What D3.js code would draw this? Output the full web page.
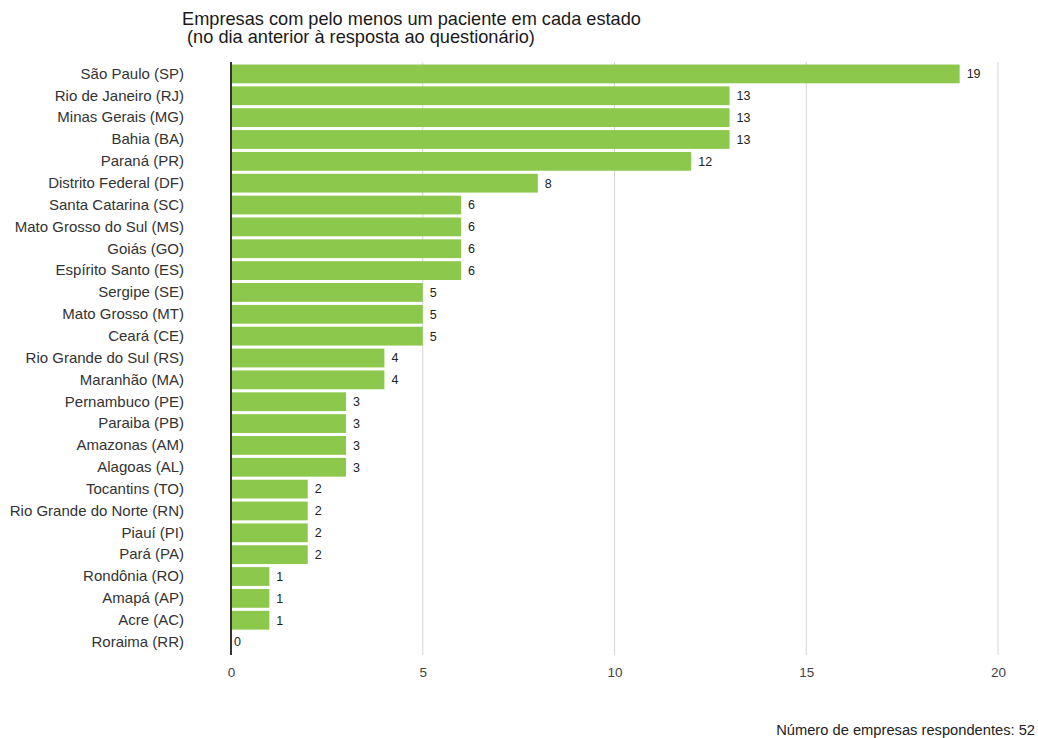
<!DOCTYPE html>
<html>
<head>
<meta charset="utf-8">
<script src="https://cdn.jsdelivr.net/npm/d3@7"></script>
<style>
  html, body { margin: 0; padding: 0; background: #fff; }
  svg { display: block; font-family: "Liberation Sans", Arial, sans-serif; }
</style>
</head>
<body>
<svg id="chart" width="1038" height="738"></svg>
<script>
// Estados e número de empresas com pelo menos um paciente
const states = [
  "São Paulo (SP)", "Rio de Janeiro (RJ)", "Minas Gerais (MG)", "Bahia (BA)",
  "Paraná (PR)", "Distrito Federal (DF)", "Santa Catarina (SC)", "Mato Grosso do Sul (MS)",
  "Goiás (GO)", "Espírito Santo (ES)", "Sergipe (SE)", "Mato Grosso (MT)",
  "Ceará (CE)", "Rio Grande do Sul (RS)", "Maranhão (MA)", "Pernambuco (PE)",
  "Paraiba (PB)", "Amazonas (AM)", "Alagoas (AL)", "Tocantins (TO)",
  "Rio Grande do Norte (RN)", "Piauí (PI)", "Pará (PA)", "Rondônia (RO)",
  "Amapá (AP)", "Acre (AC)", "Roraima (RR)"
];
const companies = [19, 13, 13, 13, 12, 8, 6, 6, 6, 6, 5, 5, 5, 4, 4, 3, 3, 3, 3, 2, 2, 2, 2, 1, 1, 1, 0];
const xTicks = [0, 5, 10, 15, 20];
const titleLines = [
  "Empresas com pelo menos um paciente em cada estado",
  " (no dia anterior à resposta ao questionário)"
];
const footnote = "Número de empresas respondentes: 52";

const svg = d3.select("#chart");

const x = d3.scaleLinear().domain([0, 20]).range([231, 998]);
const y = d3.scaleBand().domain(states).range([63, 653]).paddingInner(0.14).paddingOuter(0.07);

const plotTop = 62, plotBottom = 655;

// Linhas de grade verticais
svg.append("g")
  .selectAll("line")
  .data(xTicks.filter(t => t !== 0))
  .join("line")
  .attr("x1", d => x(d)).attr("x2", d => x(d))
  .attr("y1", plotTop).attr("y2", plotBottom)
  .attr("stroke", "#d4d4d4").attr("stroke-width", 1);

// Barras
svg.append("g")
  .selectAll("rect")
  .data(companies)
  .join("rect")
  .attr("x", x(0) + 1)
  .attr("y", (d, i) => y(states[i]))
  .attr("width", d => Math.max(0, x(d) - x(0) - 1))
  .attr("height", y.bandwidth())
  .attr("fill", "#8cc84b");

// Rótulos de valor
svg.append("g")
  .selectAll("text")
  .data(companies)
  .join("text")
  .attr("x", d => x(d) + (d === 0 ? 3 : 7))
  .attr("y", (d, i) => y(states[i]) + y.bandwidth() / 2)
  .attr("dy", "0.35em")
  .attr("font-size", 12.5)
  .attr("fill", "#222")
  .text(d => d);

// Eixo vertical (linha de base)
svg.append("line")
  .attr("x1", x(0)).attr("x2", x(0))
  .attr("y1", plotTop).attr("y2", plotBottom)
  .attr("stroke", "#333").attr("stroke-width", 2);

// Eixo Y: nomes dos estados
const yAxis = svg.append("g")
  .attr("transform", `translate(${x(0) - 47},0)`)
  .call(d3.axisLeft(y).tickSize(0).tickPadding(0));
yAxis.select(".domain").remove();
yAxis.selectAll("text")
  .attr("font-size", 15)
  .attr("fill", "#333")
  .attr("font-family", "'Liberation Sans', Arial, sans-serif");

// Eixo X
const xAxis = svg.append("g")
  .attr("transform", `translate(0,${plotBottom})`)
  .call(d3.axisBottom(x).tickValues(xTicks).tickSize(0).tickPadding(12));
xAxis.select(".domain").remove();
xAxis.selectAll("text")
  .attr("font-size", 13.5)
  .attr("fill", "#444")
  .attr("font-family", "'Liberation Sans', Arial, sans-serif");

// Título
svg.append("g")
  .selectAll("text")
  .data(titleLines)
  .join("text")
  .attr("x", 182)
  .attr("y", (d, i) => 25 + i * 18)
  .attr("font-size", 18.2)
  .attr("fill", "#1a1a1a")
  .attr("xml:space", "preserve")
  .style("white-space", "pre")
  .text(d => d);

// Nota de rodapé
svg.append("text")
  .attr("x", 1035)
  .attr("y", 735)
  .attr("text-anchor", "end")
  .attr("font-size", 14.7)
  .attr("fill", "#222")
  .text(footnote);
</script>
</body>
</html>
